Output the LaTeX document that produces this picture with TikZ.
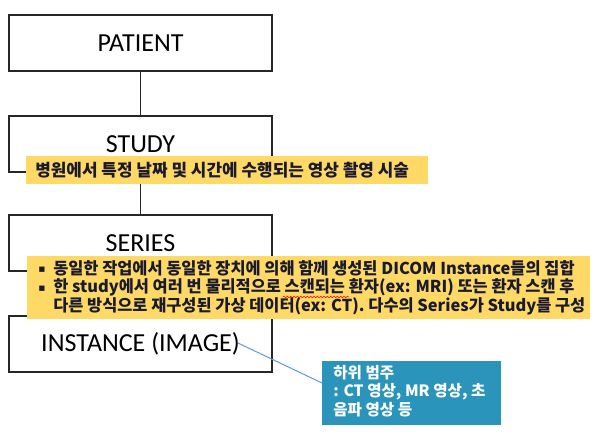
\documentclass[tikz,border=0pt]{standalone}
\usepackage{fontspec}
\newfontfamily\lbl{Carlito}
\newfontfamily\kr{Noto Sans CJK KR}
\newfontfamily\dv{DejaVu Sans}
\usetikzlibrary{decorations.pathmorphing}
\definecolor{gold}{HTML}{FFD966}
\definecolor{teal2}{HTML}{2A94BA}
\definecolor{callout}{HTML}{5B9BD5}
\definecolor{frame}{HTML}{262626}
\definecolor{ink}{HTML}{1A1A2E}
\tikzset{
  levelbox/.style={draw=frame, line width=1.1pt, fill=white, minimum width=197.25pt, minimum height=42pt, inner sep=0pt, font=\lbl\fontsize{19.5}{21}\selectfont, text=black},
  goldbox/.style={fill=gold, inner sep=0pt, anchor=north west},
  tealbox/.style={fill=teal2, inner sep=0pt, anchor=north west},
  krtext/.style={anchor=west, inner sep=0pt, align=left, text=ink},
  link/.style={draw=frame, line width=1.1pt},
  calloutline/.style={draw=callout, line width=0.75pt},
}
\newcommand{\sqbul}{\makebox[11.25pt][l]{\raisebox{1pt}{\dv\fontsize{8}{8}\selectfont ▪}}}
\begin{document}
\begin{tikzpicture}[x=0.75pt,y=-0.75pt]
\path[use as bounding box] (0,0) rectangle (597,435);
% hierarchy boxes
\node[levelbox] (patient) at (140.5,43) {PATIENT};
\node[levelbox] (study) at (140.5,144) {STUDY};
\node[levelbox] (series) at (140.5,243) {SERIES};
\node[levelbox] (instance) at (140.5,344) {INSTANCE (IMAGE)};
\draw[link] (patient) -- (study);
\draw[link] (study) -- (series);
\draw[link] (series) -- (instance);
% study definition
\node[goldbox, minimum width=301.5pt, minimum height=21pt] (def1) at (26,156) {};
\node[krtext, font=\kr\bfseries\fontsize{12.7}{14}\selectfont] (def1t) at (35,170) {병원에서 특정 날짜 및 시간에 수행되는 영상 촬영 시술};
% series definition
\node[goldbox, minimum width=422.25pt, minimum height=47.25pt] (def2) at (27,256) {};
\node[krtext, font=\kr\bfseries\fontsize{12.3}{14}\selectfont] (def2t) at (38,287.5) {\sqbul 동일한 작업에서 동일한 장치에 의해 함께 생성된 DICOM Instance들의 집합\\
\sqbul 한 study에서 여러 번 물리적으로 스캔되는 환자(ex: MRI) 또는 환자 스캔 후\\
\hspace*{11.25pt}다른 방식으로 재구성된 가상 데이터(ex: CT). 다수의 Series가 Study를 구성};
\draw[red, line width=0.4pt, decorate, decoration={snake, amplitude=0.6pt, segment length=2.5pt}] (283,297) -- (349,297);
% callout
\coordinate (tip) at (238,343);
\coordinate (subin) at (322,383);
\draw[calloutline] (tip) -- (subin);
\node[tealbox, minimum width=134.25pt, minimum height=48pt] (sub) at (322,361) {};
\node[krtext, text=white, font=\kr\bfseries\fontsize{11.7}{14}\selectfont] (subt) at (333,391) {하위 범주\\: CT 영상, MR 영상, 초\\음파 영상 등};
\end{tikzpicture}
\end{document}
